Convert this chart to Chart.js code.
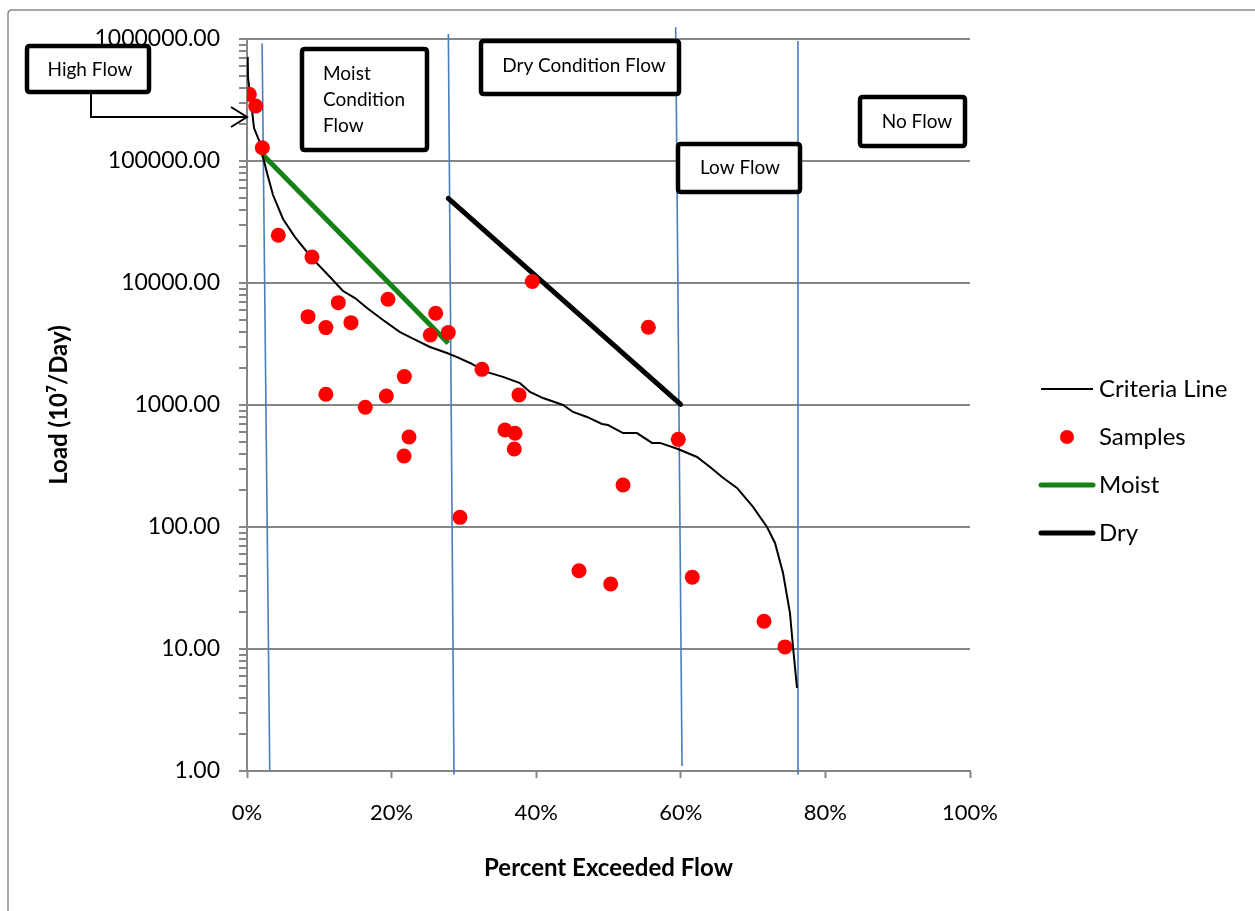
<!DOCTYPE html>
<html>
<head>
<meta charset="utf-8">
<title>Load Duration Curve</title>
<script src="https://cdn.jsdelivr.net/npm/chart.js@4.4.1/dist/chart.umd.min.js"></script>
<style>
  html, body { margin: 0; padding: 0; background: #ffffff; }
  #wrap { width: 1255px; height: 911px; position: relative; }
  canvas { display: block; }
</style>
</head>
<body>
<div id="wrap"><canvas id="chart" width="1255" height="911"></canvas></div>
<script>
// Criteria line (load duration curve): percent exceeded vs load
const criteriaPct  = [0.1, 0.14, 0.41, 0.69, 0.97, 1.80, 2.21, 2.77, 3.60, 4.98, 6.64, 8.99, 11.48, 13.28, 14.94, 16.60, 18.81, 21.16, 22.82, 25.31, 27.66, 29.05, 30.84, 33.20, 35.41, 37.76, 39.14, 40.94, 43.71, 45.09, 47.03, 49.10, 49.93, 52.01, 53.94, 56.02, 57.12, 59.61, 62.24, 64.04, 65.84, 67.77, 69.99, 71.92, 73.03, 74.14, 75.10, 75.52, 76.07];
const criteriaLoad = [711000, 488000, 348000, 262000, 186000, 141000, 108000, 79800, 52600, 33500, 23800, 16000, 11200, 8590, 7530, 6240, 4980, 3960, 3540, 2990, 2670, 2470, 2210, 1860, 1700, 1510, 1280, 1140, 1000, 877, 798, 699, 685, 589, 589, 489, 489, 436, 375, 310, 253, 209, 146, 100, 74, 42, 19.7, 10.4, 4.8];

// Sample loads
const samplePct  = [0.32, 1.20, 2.12, 4.33, 8.99, 8.44, 10.91, 12.63, 14.38, 10.91, 16.36, 19.50, 19.27, 21.76, 21.72, 22.41, 25.35, 26.10, 27.84, 29.46, 32.50, 39.46, 35.68, 37.07, 36.97, 37.62, 45.92, 50.30, 52.01, 55.51, 59.65, 61.59, 71.51, 74.41];
const sampleLoad = [352000, 282000, 128500, 24600, 16300, 5300, 4310, 6900, 4730, 1225, 958, 7350, 1185, 1710, 382, 547, 3750, 5650, 3920, 120, 1960, 10300, 624, 586, 436, 1210, 43.8, 34.1, 221, 4340, 523, 38.8, 16.9, 10.4];

// Moist and dry condition trend lines
const moistPct  = [2.12, 27.84];
const moistLoad = [113500, 3200];
const dryPct    = [27.84, 59.98];
const dryLoad   = [49400, 1014];

// Flow-zone divider lines: [x top, x bottom], [y top, y bottom]
const dividerPct  = [[2.09, 3.15], [27.85, 28.63], [59.29, 60.17], [76.21, 76.21]];
const dividerLoad = [[920000, 1], [1100000, 0.93], [1250000, 1.1], [963000, 0.93]];

// Axis ticks
const xTickValues = [0, 20, 40, 60, 80, 100];
const yDecades = [1, 10, 100, 1000, 10000, 100000, 1000000];
const yMinorSteps = [2, 3, 4, 5, 6, 7, 8, 9];

const legendItems = ['Criteria Line', 'Samples', 'Moist', 'Dry'];

const FONT = 'Lato, "Open Sans", "Liberation Sans", sans-serif';
const GRID = '#868686';
const BLUE = '#4a7ebb';

function pts(xs, ys) { return xs.map((x, i) => ({ x: x, y: ys[i] })); }

const yTickList = [];
yDecades.forEach((d, i) => {
  yTickList.push(d);
  if (i < yDecades.length - 1) yMinorSteps.forEach(m => yTickList.push(d * m));
});

const datasets = [
  { label: 'Samples', data: pts(samplePct, sampleLoad), showLine: false,
    pointRadius: 7.5, pointHoverRadius: 7.5, pointBackgroundColor: '#ff0000', pointBorderWidth: 0, borderColor: '#ff0000' },
  { label: 'Criteria Line', data: pts(criteriaPct, criteriaLoad), showLine: true,
    borderColor: '#000000', borderWidth: 2, pointRadius: 0, tension: 0 },
  { label: 'Moist', data: pts(moistPct, moistLoad), showLine: true,
    borderColor: '#148214', borderWidth: 5, pointRadius: 0 },
  { label: 'Dry', data: pts(dryPct, dryLoad), showLine: true,
    borderColor: '#000000', borderWidth: 5, pointRadius: 0, borderCapStyle: 'round' }
];
dividerPct.forEach((xs, i) => {
  datasets.push({ label: 'divider' + i, data: pts(xs, dividerLoad[i]), showLine: true,
    borderColor: BLUE, borderWidth: 1.6, pointRadius: 0, clip: false });
});

// Text boxes and arrow annotating the flow zones
const boxes = [
  { x: 27, y: 46, w: 122, h: 46, lines: ['High Flow'], align: 'center', tx: 90, ty: [70] },
  { x: 302, y: 49, w: 125, h: 101, lines: ['Moist', 'Condition', 'Flow'], align: 'left', tx: 323, ty: [74, 100, 126] },
  { x: 481, y: 41, w: 198, h: 53, lines: ['Dry Condition Flow'], align: 'center', tx: 584, ty: [66] },
  { x: 678, y: 144, w: 122, h: 48, lines: ['Low Flow'], align: 'center', tx: 740, ty: [168] },
  { x: 860, y: 97, w: 105, h: 49, lines: ['No Flow'], align: 'center', tx: 917, ty: [122] }
];

function roundRect(ctx, x, y, w, h, r) {
  ctx.beginPath();
  ctx.moveTo(x + r, y);
  ctx.lineTo(x + w - r, y); ctx.quadraticCurveTo(x + w, y, x + w, y + r);
  ctx.lineTo(x + w, y + h - r); ctx.quadraticCurveTo(x + w, y + h, x + w - r, y + h);
  ctx.lineTo(x + r, y + h); ctx.quadraticCurveTo(x, y + h, x, y + h - r);
  ctx.lineTo(x, y + r); ctx.quadraticCurveTo(x, y, x + r, y);
  ctx.closePath();
}

const decorPlugin = {
  id: 'decor',
  beforeDraw(chart) {
    const ctx = chart.ctx;
    ctx.save();
    ctx.fillStyle = '#ffffff';
    ctx.fillRect(0, 0, chart.width, chart.height);
    // chart frame
    ctx.strokeStyle = '#8a8a8a';
    ctx.lineWidth = 1.5;
    ctx.beginPath();
    ctx.moveTo(8, chart.height + 2);
    ctx.lineTo(8, 14);
    ctx.quadraticCurveTo(8, 10, 12, 10);
    ctx.lineTo(chart.width + 2, 10);
    ctx.stroke();
    ctx.restore();
  },
  afterDraw(chart) {
    const ctx = chart.ctx;
    ctx.save();
    // arrow from the High Flow box into the plot
    ctx.strokeStyle = '#000000';
    ctx.lineWidth = 2;
    ctx.beginPath();
    ctx.moveTo(91, 92); ctx.lineTo(91, 117); ctx.lineTo(246, 117);
    ctx.stroke();
    ctx.beginPath();
    ctx.moveTo(231, 107); ctx.lineTo(247, 117); ctx.lineTo(231, 127);
    ctx.stroke();
    // text boxes
    boxes.forEach(b => {
      roundRect(ctx, b.x, b.y, b.w, b.h, 3);
      ctx.fillStyle = '#ffffff';
      ctx.fill();
      ctx.lineWidth = 4.5;
      ctx.strokeStyle = '#000000';
      ctx.stroke();
      ctx.fillStyle = '#000000';
      ctx.font = '19px ' + FONT;
      ctx.textAlign = b.align;
      ctx.textBaseline = 'middle';
      b.lines.forEach((t, i) => ctx.fillText(t, b.tx, b.ty[i]));
    });
    // legend
    const lx0 = 1041, lx1 = 1093, tx = 1099, rows = [389, 437, 485, 533];
    ctx.font = '24px ' + FONT;
    ctx.textAlign = 'left';
    ctx.textBaseline = 'middle';
    legendItems.forEach((name, i) => {
      const ds = chart.data.datasets.find(d => d.label === name);
      const y = rows[i];
      if (ds.showLine) {
        ctx.strokeStyle = ds.borderColor;
        ctx.lineWidth = ds.borderWidth;
        ctx.lineCap = ds.borderWidth > 3 ? 'round' : 'butt';
        ctx.beginPath(); ctx.moveTo(lx0, y); ctx.lineTo(lx1, y); ctx.stroke();
      } else {
        ctx.fillStyle = ds.pointBackgroundColor;
        ctx.beginPath(); ctx.arc((lx0 + lx1) / 2, y, 7, 0, Math.PI * 2); ctx.fill();
      }
      ctx.fillStyle = '#000000';
      ctx.fillText(name, tx, y);
    });
    ctx.restore();
  }
};

new Chart(document.getElementById('chart'), {
  type: 'scatter',
  data: { datasets: datasets },
  options: {
    responsive: false,
    animation: false,
    events: [],
    layout: { padding: { left: 0, top: 39, right: 285, bottom: 0 } },
    plugins: { legend: { display: false }, tooltip: { enabled: false } },
    scales: {
      x: {
        type: 'linear', min: 0, max: 100,
        afterBuildTicks: s => { s.ticks = xTickValues.map(v => ({ value: v })); },
        afterFit: s => { s.height = 140; },
        ticks: { callback: v => v + '%', color: '#000000', padding: 22, font: { family: FONT, size: 22 }, maxRotation: 0 },
        grid: { drawOnChartArea: false, drawTicks: true, tickLength: 7, tickColor: GRID, tickWidth: 2 },
        border: { display: true, color: GRID, width: 2 },
        title: { display: true, text: 'Percent Exceeded Flow', color: '#000000',
                 font: { family: FONT, size: 24, weight: 'bold' }, padding: { top: 0, bottom: 28 } }
      },
      y: {
        type: 'logarithmic', min: 1, max: 1000000,
        afterBuildTicks: s => { s.ticks = yTickList.map(v => ({ value: v })); },
        afterFit: s => { s.width = 247; },
        ticks: { autoSkip: false, color: '#000000', padding: 19, font: { family: FONT, size: 23 },
                 callback: v => (yDecades.includes(v) ? v.toFixed(2) : '') },
        grid: {
          drawOnChartArea: true, drawTicks: true, tickLength: 8, tickWidth: 2, tickColor: GRID,
          color: c => (c.tick && yDecades.includes(c.tick.value) ? GRID : 'rgba(0,0,0,0)'),
          lineWidth: 2
        },
        border: { display: true, color: GRID, width: 2 },
        title: { display: true, text: 'Load (10\u2077/Day)', color: '#000000',
                 font: { family: FONT, size: 24, weight: 'bold' }, padding: { top: 45, bottom: 0 } }
      }
    }
  },
  plugins: [decorPlugin]
});
</script>
</body>
</html>
